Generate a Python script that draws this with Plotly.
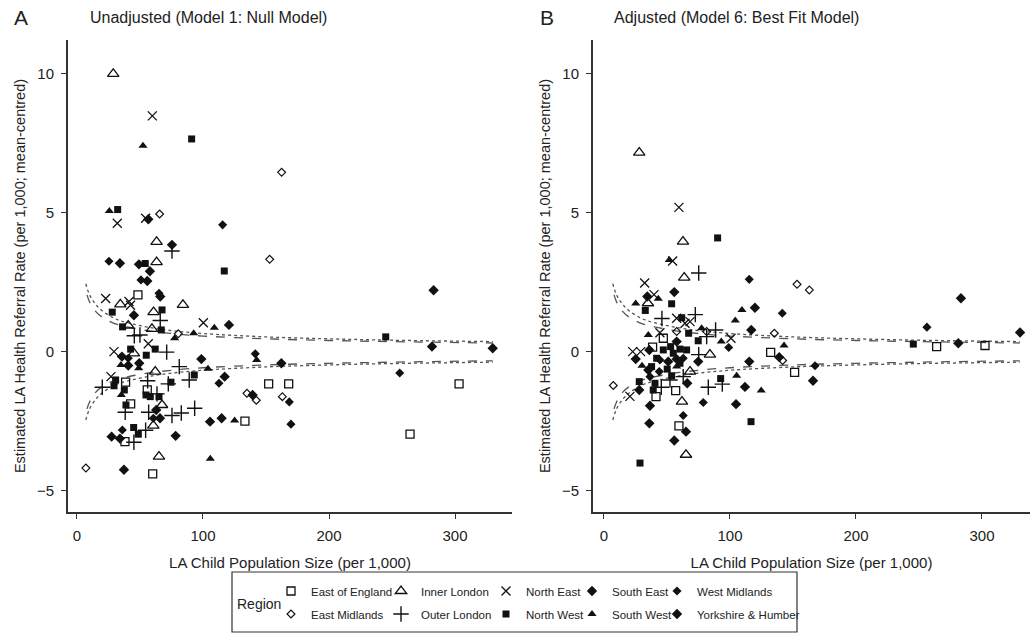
import plotly.graph_objects as go

# ---------------- data: (child population per 1,000, estimated referral rate) ----------------
# Panel A: Unadjusted (Model 1)
A_EAST_ENGLAND = [(48.4, 2.05), (38.6, -1.09), (152.1, -1.15), (168.0, -1.15), (55.8, -1.37), (42.6, -1.87),
                  (133.3, -2.49), (38.1, -3.23), (60.1, -4.39), (303.2, -1.15), (264.3, -2.96)]
A_INNER_LONDON = [(28.8, 10.0), (63.2, 3.96), (63.2, 3.23), (34.4, 1.71), (84.1, 1.69), (60.8, 1.43), (40.7, 0.95),
                  (59.5, 0.83), (45.2, -0.05), (62.1, -0.71), (67.5, -1.91), (60.6, -2.65), (65.1, -3.77)]
A_NORTH_EAST = [(59.8, 8.49), (32.0, 4.63), (54.5, 4.81), (22.8, 1.92), (41.3, 1.81), (42.5, 1.68), (100.3, 1.05),
                (56.6, 0.29), (29.4, 0.01), (27.0, -0.89)]
A_SOUTH_EAST = [(56.6, 4.77), (75.4, 3.85), (34.1, 3.19), (57.9, 2.9), (55.8, 2.55), (66.1, 1.99), (35.7, -0.17),
                (40.7, -0.49), (98.7, -0.26), (117.2, -0.89), (139.4, -1.55), (62.9, -2.09), (65.9, -2.39),
                (114.8, -2.39), (27.5, -3.05), (78.3, -3.02), (283.0, 2.22)]
A_WEST_MIDLANDS = [(115.6, 4.57), (25.4, 3.26), (50.8, 2.59), (65.1, 2.11), (40.7, -0.23), (141.5, -0.07),
                   (112.7, -1.13), (168.5, -1.8), (60.6, -2.39), (169.8, -2.6), (36.0, -2.81), (256.1, -0.76)]
A_YORKSHIRE = [(49.2, 3.15), (45.2, 1.32), (120.6, 0.97), (49.4, -0.41), (162.2, -0.41), (105.6, -2.51),
               (34.1, -3.12), (37.3, -4.24), (281.7, 0.19), (329.9, 0.13)]
A_EAST_MIDLANDS = [(162.4, 6.46), (65.6, 4.96), (152.9, 3.33), (80.4, 0.65), (134.9, -1.49), (142.3, -1.74),
                   (163.0, -1.61), (7.1, -4.18)]
A_OUTER_LONDON = [(75.4, 3.63), (66.1, 1.13), (45.5, 0.58), (50.0, 0.61), (71.2, -0.01), (81.2, -0.53),
                  (20.1, -1.27), (56.1, -1.04), (89.1, -1.01), (72.5, -1.15), (63.5, -1.51), (38.3, -2.17),
                  (56.9, -2.17), (75.4, -2.29), (82.8, -2.2), (93.4, -2.03), (54.5, -2.82), (45.2, -3.25)]
A_NORTH_WEST = [(91.0, 7.66), (32.3, 5.12), (54.2, 3.18), (116.9, 2.91), (67.5, 1.51), (28.0, 1.43), (36.2, 0.9),
                (66.9, 0.79), (62.1, 0.1), (42.6, 0.1), (55.0, -0.12), (30.7, -1.01), (29.4, -1.22), (93.1, -0.83),
                (74.6, -1.09), (37.6, -1.37), (54.8, -1.55), (58.2, -1.61), (65.1, -1.61), (38.9, -1.91),
                (45.0, -2.72), (48.7, -2.96), (245.0, 0.54)]
A_SOUTH_WEST = [(52.4, 7.42), (25.7, 5.07), (109.0, 0.87), (77.5, 0.49), (92.6, 0.67), (34.9, -0.47),
                (142.6, -0.29), (49.0, -0.59), (104.0, -0.61), (35.2, -1.55), (125.1, -2.47), (105.8, -3.84)]

# Panel B: Adjusted (Model 6)
B_EAST_ENGLAND = [(38.6, 0.17), (47.1, 0.49), (132.3, -0.02), (151.3, -0.74), (41.3, -1.61), (56.9, -1.39),
                  (59.5, -2.66), (264.0, 0.19), (302.4, 0.23)]
B_INNER_LONDON = [(28.0, 7.17), (62.7, 3.97), (63.7, 2.67), (34.9, 1.75), (84.1, -0.1), (68.3, -0.71),
                  (61.9, -1.79), (65.1, -3.7)]
B_NORTH_EAST = [(59.5, 5.2), (54.5, 3.27), (32.3, 2.48), (39.7, 2.06), (57.7, 1.21), (64.3, 1.03), (68.3, 1.09),
                (100.8, 0.49), (44.4, 0.69), (22.8, 0.01), (29.1, 0.01), (20.6, -1.6)]
B_SOUTH_EAST = [(55.8, 2.15), (119.8, 1.59), (116.9, 0.79), (139.1, -0.19), (36.0, 0.07), (51.0, -0.35),
                (35.2, -0.65), (66.1, -1.13), (28.0, -1.37), (36.0, -2.57), (65.1, -2.87), (104.8, -1.88),
                (115.3, -0.35), (283.3, 1.93)]
B_WEST_MIDLANDS = [(115.3, 2.61), (141.5, 1.39), (99.0, 0.16), (44.4, -0.29), (62.9, -0.23), (36.5, -0.89),
                   (43.9, -0.71), (62.9, -2.29), (78.8, -1.82), (256.3, 0.89), (167.5, -0.5)]
B_YORKSHIRE = [(34.4, 1.99), (25.2, -0.26), (57.7, -0.26), (57.7, 0.37), (36.5, -1.94), (55.8, -3.19),
               (111.9, -1.26), (74.8, -0.35), (330.2, 0.7), (281.2, 0.31), (165.9, -1.04)]
B_EAST_MIDLANDS = [(153.2, 2.43), (163.0, 2.23), (81.5, 0.73), (57.7, 0.73), (135.2, 0.67), (141.8, -0.31),
                   (7.4, -1.21)]
B_OUTER_LONDON = [(75.2, 2.84), (46.0, 1.2), (72.5, 1.34), (88.6, 0.79), (81.5, 0.55), (75.2, -0.1),
                  (45.5, -1.27), (52.4, -1.01), (82.8, -1.27), (93.9, -1.16), (62.9, -0.89)]
B_NORTH_WEST = [(90.2, 4.1), (53.7, 1.73), (32.8, 1.49), (61.7, 1.23), (67.2, 0.67), (74.8, 0.4), (41.8, -0.23),
                (47.1, 0.07), (52.9, 0.19), (55.0, -0.05), (60.3, 0.1), (65.6, 0.07), (50.2, -0.62),
                (53.7, -0.86), (60.3, -0.41), (37.8, -0.53), (40.5, -1.13), (39.1, -1.37), (28.0, -1.07),
                (28.6, -4.0), (116.7, -2.51), (92.6, -0.96), (245.5, 0.28)]
B_SOUTH_WEST = [(51.8, 3.31), (43.1, 1.91), (25.2, 1.74), (109.5, 1.51), (104.2, 1.13), (77.5, 0.85),
                (93.1, 0.37), (142.9, 0.23), (35.2, 0.61), (30.2, -0.5), (105.3, -0.86), (124.8, -1.39),
                (57.7, -0.53)]

# Funnel limits (same in both panels)
LIMIT_X_DOT = [7, 10, 15, 20, 30, 40, 60, 80, 100, 150, 200, 250, 330]
LIMIT_DOT_UPPER = [2.45, 2.05, 1.7, 1.48, 1.2, 1.05, 0.86, 0.74, 0.66, 0.54, 0.47, 0.42, 0.37]
LIMIT_DOT_LOWER = [-2.45, -2.05, -1.7, -1.48, -1.2, -1.05, -0.86, -0.74, -0.66, -0.54, -0.47, -0.42, -0.37]
LIMIT_X_DASH = [8, 10, 15, 20, 30, 40, 60, 80, 100, 150, 200, 250, 330]
LIMIT_DASH_UPPER = [2.05, 1.8, 1.45, 1.25, 1.02, 0.9, 0.74, 0.64, 0.57, 0.47, 0.41, 0.37, 0.32]
LIMIT_DASH_LOWER = [-2.05, -1.8, -1.45, -1.25, -1.02, -0.9, -0.74, -0.64, -0.57, -0.47, -0.41, -0.37, -0.32]

REGIONS = ["East of England", "Inner London", "North East", "South East", "West Midlands",
           "East Midlands", "Outer London", "North West", "South West", "Yorkshire & Humber"]
A_SERIES = [A_EAST_ENGLAND, A_INNER_LONDON, A_NORTH_EAST, A_SOUTH_EAST, A_WEST_MIDLANDS,
            A_EAST_MIDLANDS, A_OUTER_LONDON, A_NORTH_WEST, A_SOUTH_WEST, A_YORKSHIRE]
B_SERIES = [B_EAST_ENGLAND, B_INNER_LONDON, B_NORTH_EAST, B_SOUTH_EAST, B_WEST_MIDLANDS,
            B_EAST_MIDLANDS, B_OUTER_LONDON, B_NORTH_WEST, B_SOUTH_WEST, B_YORKSHIRE]

INK = "#111111"
STYLE = {
    "East of England": dict(symbol="square-open", size=8, line=dict(width=1.3, color=INK)),
    "Inner London": dict(symbol="triangle-up-open", size=10, line=dict(width=1.3, color=INK)),
    "North East": dict(symbol="x-thin-open", size=9, line=dict(width=1.3, color=INK)),
    "South East": dict(symbol="diamond", size=8, line=dict(width=0)),
    "West Midlands": dict(symbol="diamond", size=7, line=dict(width=0)),
    "East Midlands": dict(symbol="diamond-open", size=6, line=dict(width=1.2, color=INK)),
    "Outer London": dict(symbol="cross-thin-open", size=11, line=dict(width=1.4, color=INK)),
    "North West": dict(symbol="square", size=7, line=dict(width=0)),
    "South West": dict(symbol="triangle-up", size=8, line=dict(width=0)),
    "Yorkshire & Humber": dict(symbol="diamond", size=8, line=dict(width=0)),
}
LEGEND_IDS = ["legend", "legend2", "legend3", "legend4", "legend5"]

FONT = "Liberation Sans, Arial, sans-serif"
fig = go.Figure()

for panel, (xa, ya) in enumerate([("x", "y"), ("x2", "y2")]):
    for xs, up, lo, dash in [(LIMIT_X_DOT, LIMIT_DOT_UPPER, LIMIT_DOT_LOWER, "dot"),
                             (LIMIT_X_DASH, LIMIT_DASH_UPPER, LIMIT_DASH_LOWER, "dash")]:
        for ys in (up, lo):
            fig.add_trace(go.Scatter(x=xs, y=ys, mode="lines", xaxis=xa, yaxis=ya, showlegend=False,
                                     hoverinfo="skip", line=dict(color="#555555", width=1.3, dash=dash,
                                                                 shape="spline")))
    series = A_SERIES if panel == 0 else B_SERIES
    for i, (name, pts) in enumerate(zip(REGIONS, series)):
        st = STYLE[name]
        fig.add_trace(go.Scatter(
            x=[p[0] for p in pts], y=[p[1] for p in pts], mode="markers", name=name,
            xaxis=xa, yaxis=ya, legendgroup=name, showlegend=(panel == 0),
            legend=LEGEND_IDS[i % 5],
            marker=dict(symbol=st["symbol"], size=st["size"], color=INK, line=st["line"])))

W, H = 1030, 640
def px_x(v):
    return v / W
def px_y(v):
    return 1 - v / H

axis_common = dict(showline=True, linecolor="#333333", linewidth=2, ticks="outside", ticklen=5,
                   tickwidth=1, tickcolor="#333333", showgrid=False, zeroline=False,
                   tickfont=dict(family=FONT, size=15, color="#222222"), ticklabelstandoff=4)
y_common = dict(axis_common, range=[-5.76, 11.22], tickvals=[-5, 0, 5, 10], ticktext=["\u22125", "0", "5", "10"],
                title=dict(text="Estimated LA Health Referral Rate (per 1,000; mean-centred)",
                           font=dict(family=FONT, size=14.5, color="#222222"), standoff=8))
x_title = dict(text="LA Child Population Size (per 1,000)", font=dict(family=FONT, size=15, color="#222222"),
               standoff=14)

legend_cols_px = [271, 381, 486, 572, 657]
legend_layout = {}
for lid, lx in zip(LEGEND_IDS, legend_cols_px):
    legend_layout[lid] = dict(orientation="v", x=px_x(lx), xanchor="left", y=px_y(602.5), yanchor="middle",
                              font=dict(family=FONT, size=11.5, color="#222222"), bgcolor="rgba(0,0,0,0)",
                              tracegroupgap=4, itemclick=False, itemdoubleclick=False)

fig.update_layout(
    width=W, height=H, margin=dict(l=0, r=0, t=0, b=0),
    paper_bgcolor="white", plot_bgcolor="white", font=dict(family=FONT, color="#222222"),
    hovermode=False,
    xaxis=dict(axis_common, domain=[px_x(68), px_x(512)], range=[-7.1, 345.2], tickvals=[0, 100, 200, 300],
               anchor="y", title=x_title),
    yaxis=dict(y_common, domain=[px_y(512), px_y(40)], anchor="x"),
    xaxis2=dict(axis_common, domain=[px_x(593), 1.0], range=[-8.7, 338.1], tickvals=[0, 100, 200, 300],
                anchor="y2", title=x_title),
    yaxis2=dict(y_common, domain=[px_y(512), px_y(40)], anchor="x2"),
    shapes=[dict(type="rect", xref="paper", yref="paper", x0=px_x(232), x1=px_x(797), y0=px_y(632), y1=px_y(572),
                 line=dict(color="#333333", width=1.2), fillcolor="rgba(0,0,0,0)", layer="below")],
    annotations=[
        dict(text="Region", x=px_x(235), y=px_y(603.5), xref="paper", yref="paper", xanchor="left", yanchor="middle",
             showarrow=False, font=dict(family=FONT, size=14, color="#222222")),
        dict(text="A", x=px_x(12), y=px_y(18), xref="paper", yref="paper", xanchor="left", yanchor="middle",
             showarrow=False, font=dict(family=FONT, size=21, color="#222222")),
        dict(text="Unadjusted (Model 1: Null Model)", x=px_x(88), y=px_y(17), xref="paper", yref="paper",
             xanchor="left", yanchor="middle", showarrow=False, font=dict(family=FONT, size=16, color="#222222")),
        dict(text="B", x=px_x(538), y=px_y(18), xref="paper", yref="paper", xanchor="left", yanchor="middle",
             showarrow=False, font=dict(family=FONT, size=21, color="#222222")),
        dict(text="Adjusted (Model 6: Best Fit Model)", x=px_x(612), y=px_y(17), xref="paper", yref="paper",
             xanchor="left", yanchor="middle", showarrow=False, font=dict(family=FONT, size=16, color="#222222")),
    ],
    **legend_layout,
)

fig.write_html("out.html", config={"displayModeBar": False, "staticPlot": False},
               post_script="document.body.style.margin='0px';document.body.style.overflow='hidden';")
